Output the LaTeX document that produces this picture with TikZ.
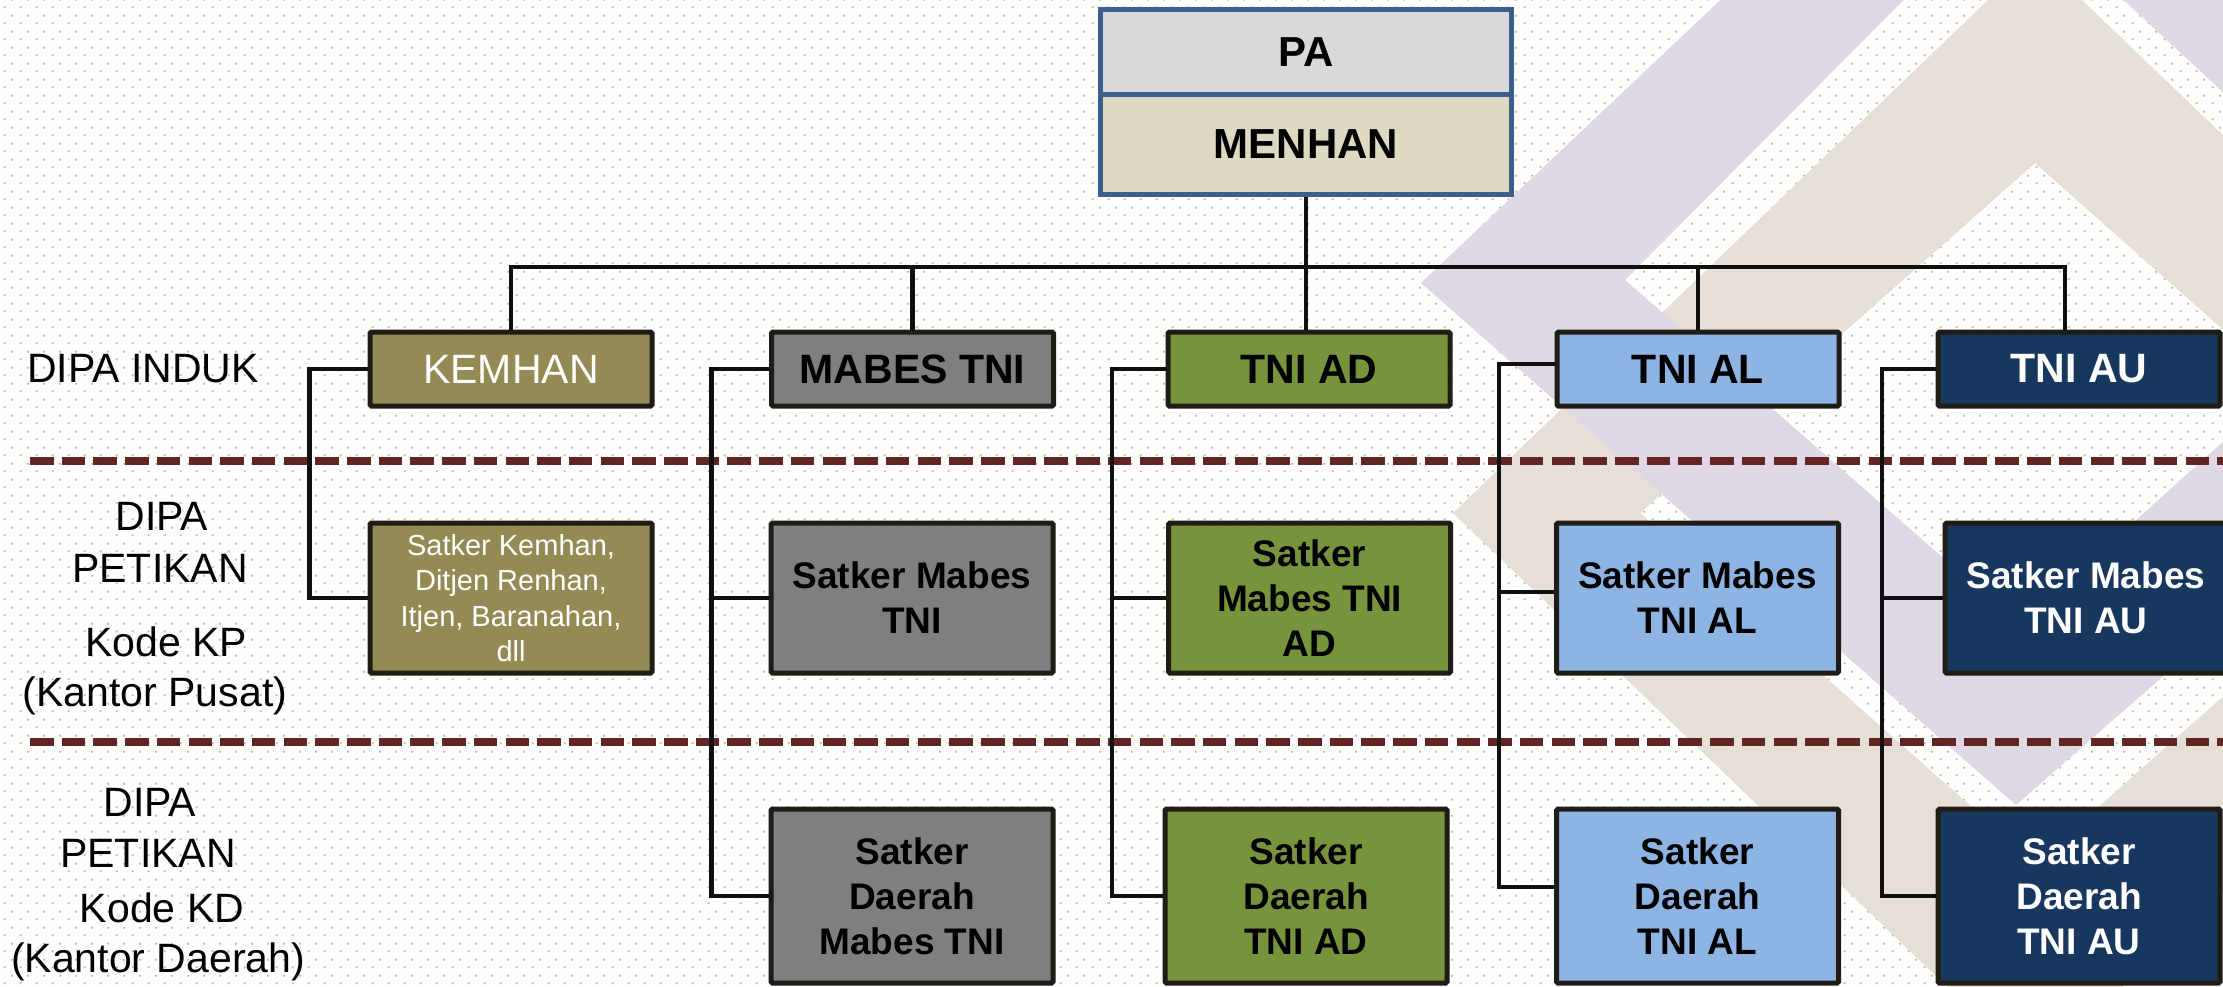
\documentclass[tikz,border=0pt]{standalone}
\usepackage{fontspec}
\setmainfont{Liberation Sans}
\usetikzlibrary{calc,patterns.meta}

\definecolor{dotc}{RGB}{198,190,145}
\definecolor{lav}{RGB}{225,216,230}
\definecolor{bge}{RGB}{229,223,216}
\definecolor{paline}{RGB}{59,94,140}
\definecolor{pafill}{RGB}{217,217,217}
\definecolor{menfill}{RGB}{221,217,195}
\definecolor{boxline}{RGB}{30,28,20}
\definecolor{kemc}{RGB}{148,138,84}
\definecolor{mabc}{RGB}{127,127,127}
\definecolor{adc}{RGB}{119,147,60}
\definecolor{alc}{RGB}{141,180,226}
\definecolor{auc}{RGB}{23,55,94}
\definecolor{dashc}{RGB}{99,37,35}
\definecolor{connc}{RGB}{15,15,15}

\tikzdeclarepattern{
  name=bgdots,
  type=colored,
  bounding box={(0pt,0pt) and (16pt,16pt)},
  tile size={(16pt,16pt)},
  code={
    \fill[dotc] (5pt,3pt) rectangle (7pt,5pt);
    \fill[dotc] (13pt,11pt) rectangle (15pt,13pt);
  }
}

\begin{document}
\begin{tikzpicture}[x=1pt,y=-1pt,
  pabox/.style={draw=paline, line width=5pt, fill=pafill, minimum width=411pt,
    minimum height=85pt, inner sep=0pt, font=\fontsize{42}{50}\selectfont\bfseries},
  menbox/.style={pabox, fill=menfill, minimum height=100pt},
  box/.style={draw=boxline, line width=5pt, minimum width=282pt, inner sep=0pt,
    align=center, rounded corners=1.5pt},
  rowa/.style={box, minimum height=74pt, font=\fontsize{41}{49}\selectfont\bfseries},
  rowb/.style={box, minimum height=150pt, font=\fontsize{37}{45}\selectfont\bfseries},
  rowc/.style={box, minimum height=174pt, font=\fontsize{37}{45}\selectfont\bfseries},
  conn/.style={draw=connc, line width=4.5pt},
  sepline/.style={draw=dashc, line width=7.5pt, dash pattern=on 23.5pt off 8.2pt},
  lbl/.style={anchor=base, inner sep=0pt, font=\fontsize{41}{49}\selectfont}
]
\useasboundingbox (0,0) rectangle (2223,986);
\fill[white] (0,0) rectangle (2223,986);
\fill[pattern=bgdots] (0,0) rectangle (2223,986);

% background chevrons
\begin{scope}
\clip (0,0) rectangle (2223,986);
\fill[bge,even odd rule] (2035,-45) -- (1453,513) -- (2035,1071) -- (2617,513) -- cycle
   (2035,163) -- (1640,513) -- (2035,863) -- (2430,513) -- cycle;
\fill[lav,even odd rule] (1421,283) -- (2025,-288) -- (2650,250) -- (2016,805) -- cycle
   (1625,280) -- (2009,-106) -- (2414,269) -- (2020,625) -- cycle;
\end{scope}

% separators
\coordinate (d1a) at (30,461);
\coordinate (d1b) at (2223,461);
\coordinate (d2a) at (30,742);
\coordinate (d2b) at (2223,742);
\draw[sepline] (d1a) -- (d1b);
\draw[sepline] (d2a) -- (d2b);

% left labels
\node[lbl] (l1) at (143,382) {DIPA INDUK};
\node[lbl] (l2a) at (162,530) {DIPA};
\node[lbl] (l2b) at (160,582) {PETIKAN};
\node[lbl] (l2c) at (166,656) {Kode KP};
\node[lbl] (l2d) at (155,706) {(Kantor Pusat)};
\node[lbl] (l3a) at (150,816) {DIPA};
\node[lbl] (l3b) at (148,867) {PETIKAN};
\node[lbl] (l3c) at (162,922) {Kode KD};
\node[lbl] (l3d) at (158,972) {(Kantor Daerah)};

% top box
\node[pabox] (pa) at (1306,52) {PA};
\node[menbox] (menhan) at (1306,144.5) {MENHAN};

% row 1
\node[rowa, fill=kemc, text=white, font=\fontsize{41}{49}\selectfont] (kemhan) at (511,369) {KEMHAN};
\node[rowa, fill=mabc] (mabes) at (912.5,369) {MABES TNI};
\node[rowa, fill=adc] (tniad) at (1309,369) {TNI AD};
\node[rowa, fill=alc] (tnial) at (1698,369) {TNI AL};
\node[rowa, fill=auc, text=white] (tniau) at (2079,369) {TNI AU};

% row 2
\node[rowb, fill=kemc, text=white, font=\fontsize{29}{35.5}\selectfont] (skemhan) at (511,598)
  {Satker Kemhan,\\Ditjen Renhan,\\Itjen, Baranahan,\\dll};
\node[rowb, fill=mabc] (smabes) at (912,598) {Satker Mabes\\TNI};
\node[rowb, fill=adc] (sad) at (1309.5,598) {Satker\\Mabes TNI\\AD};
\node[rowb, fill=alc] (sal) at (1697.5,598) {Satker Mabes\\TNI AL};
\node[rowb, fill=auc, text=white] (sau) at (2086,598) {Satker Mabes\\TNI AU};

% row 3
\node[rowc, fill=mabc] (dmabes) at (912,896) {Satker\\Daerah\\Mabes TNI};
\node[rowc, fill=adc] (dad) at (1306,896) {Satker\\Daerah\\TNI AD};
\node[rowc, fill=alc] (dal) at (1697.5,896) {Satker\\Daerah\\TNI AL};
\node[rowc, fill=auc, text=white] (dau) at (2079,896) {Satker\\Daerah\\TNI AU};

% connectors
\coordinate (bus) at (0,267);
\draw[conn] (menhan.south) -- (menhan.south |- tniad.north);
\draw[conn] (kemhan.north) -- (kemhan.north |- bus) -- ([xshift=-14pt]tniau.north |- bus) -- ([xshift=-14pt]tniau.north);
\draw[conn] (mabes.north) -- (mabes.north |- bus);
\draw[conn] (tnial.north) -- (tnial.north |- bus);

\draw[conn] (kemhan.west) -- ++(-58,0) |- (skemhan.west);

\draw[conn] (mabes.west) -- ++(-57.5,0) coordinate (ms) |- (dmabes.west);
\draw[conn] (smabes.west) -- (smabes.west -| ms);

\draw[conn] (tniad.west) -- ++(-53.5,0) coordinate (as) |- (dad.west);
\draw[conn] (sad.west) -- (sad.west -| as);

\draw[conn] ([yshift=5pt]tnial.west) -- ++(-55.5,0) coordinate (ls) |- ([yshift=9pt]dal.west);
\draw[conn] ([yshift=6pt]sal.west) -- ([yshift=6pt]sal.west -| ls);

\draw[conn] (tniau.west) -- ++(-53.5,0) coordinate (us) |- (dau.west);
\draw[conn] (sau.west) -- (sau.west -| us);
\end{tikzpicture}
\end{document}
